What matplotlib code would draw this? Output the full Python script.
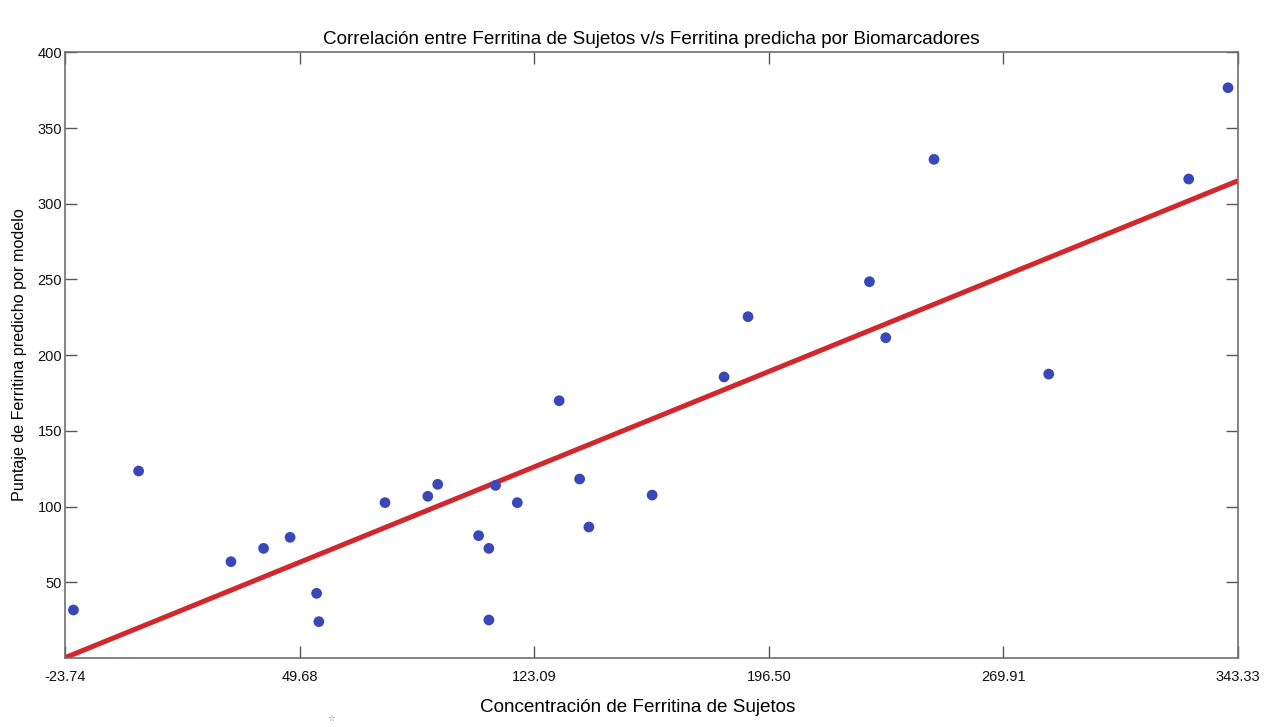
import matplotlib
matplotlib.use('Agg')
from matplotlib import pyplot as plt
from matplotlib import font_manager

# subject ferritin vs. ferritin predicted by the biomarker model
ferritina_sujetos = [-21.1, -0.7, 28.2, 38.4, 46.7, 55.0, 55.7, 76.4, 89.8, 92.9,
                     105.7, 108.9, 108.9, 111.0, 117.8, 130.9, 137.3, 140.2, 160.0,
                     182.5, 190.0, 228.0, 233.1, 248.2, 284.1, 327.9, 340.2]
ferritina_predicha = [31.7, 123.5, 63.6, 72.4, 79.7, 42.7, 24.0, 102.6, 106.8, 114.7,
                      80.8, 72.4, 25.1, 114.0, 102.6, 169.9, 118.2, 86.5, 107.6,
                      185.6, 225.4, 248.5, 211.5, 329.3, 187.5, 316.3, 376.6]

# fitted line, end points
recta_x = [-23.74, 343.33]
recta_y = [0.2, 315.2]

xticks = [-23.74, 49.68, 123.09, 196.50, 269.91, 343.33]
xtick_labels = ['-23.74', '49.68', '123.09', '196.50', '269.91', '343.33']
yticks = [50, 100, 150, 200, 250, 300, 350, 400]

installed = {f.name for f in font_manager.fontManager.ttflist}
if 'Liberation Sans Narrow' in installed:
    fam = ['Liberation Sans Narrow', 'DejaVu Sans']
else:
    fam = ['Liberation Sans', 'DejaVu Sans']
plt.rcParams['font.family'] = fam

fig = plt.figure(figsize=(12.65, 7.27), dpi=100)
ax = fig.add_axes([65 / 1265, 1 - 657.7 / 727, (1238 - 65) / 1265, (657.7 - 52.3) / 727])

ax.plot(recta_x, recta_y, color='#D0282C', linewidth=3.6, solid_capstyle='butt', zorder=2)
ax.scatter(ferritina_sujetos, ferritina_predicha, s=60, color='#3A47B8', edgecolors='none', zorder=3)

ax.set_xlim(-23.74, 343.33)
ax.set_ylim(0.2, 400)
ax.set_xticks(xticks)
ax.set_xticklabels(xtick_labels)
ax.set_yticks(yticks)

for s in ax.spines.values():
    s.set_color('#707070')
    s.set_linewidth(1.2)
ax.tick_params(direction='in', length=8.5, width=1, color='#555555',
               top=True, right=True, labelsize=10.5, labelcolor='#111111')
ax.tick_params(axis='x', pad=9)
ax.tick_params(axis='y', pad=2)

ax.set_title('Correlación entre Ferritina de Sujetos v/s Ferritina predicha por Biomarcadores',
             fontsize=13.6, pad=6)
ax.set_xlabel('Concentración de Ferritina de Sujetos', fontsize=13.6)
ax.xaxis.set_label_coords((638 - 65) / 1173, -0.068)
ax.set_ylabel('Puntaje de Ferritina predicho por modelo', fontsize=11.6)
ax.yaxis.set_label_coords(-0.032, 0.5)

fig.text(331 / 1265, 1 - 719 / 727, '☆', fontsize=6, color='#7777aa',
         family='DejaVu Sans', ha='center', va='center')

fig.savefig('out.png', dpi=100)
